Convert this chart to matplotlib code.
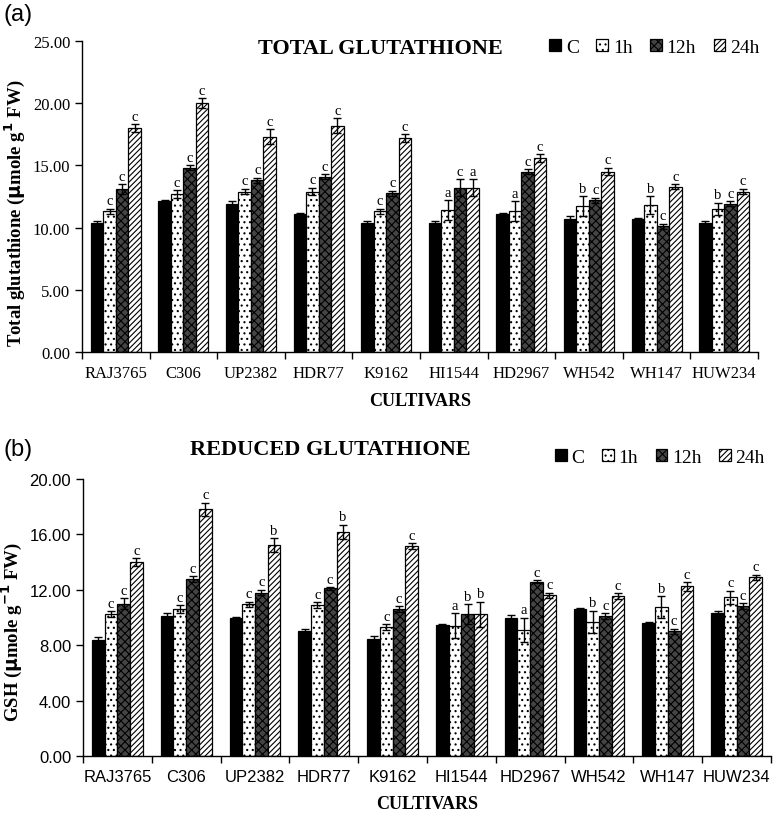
import numpy as np
import matplotlib.pyplot as plt

cultivars = ['RAJ3765', 'C306', 'UP2382', 'HDR77', 'K9162',
             'HI1544', 'HD2967', 'WH542', 'WH147', 'HUW234']
series = ['C', '1h', '12h', '24h']

# (a) total glutathione
total_c = [10.4, 12.1, 11.9, 11.1, 10.4, 10.35, 11.1, 10.7, 10.7, 10.35]
total_1h = [11.3, 12.7, 12.9, 12.9, 11.3, 11.4, 11.3, 11.7, 11.8, 11.5]
total_12h = [13.1, 14.8, 13.8, 14.1, 12.75, 13.2, 14.5, 12.2, 10.1, 11.9]
total_24h = [18.0, 20.0, 17.3, 18.2, 17.2, 13.2, 15.6, 14.5, 13.3, 12.9]
total_err_c = [0.1, 0.1, 0.2, 0.1, 0.15, 0.15, 0.1, 0.2, 0.1, 0.2]
total_err_1h = [0.2, 0.3, 0.2, 0.3, 0.2, 0.8, 0.8, 0.8, 0.7, 0.5]
total_err_12h = [0.4, 0.2, 0.2, 0.2, 0.2, 0.7, 0.2, 0.2, 0.2, 0.2]
total_err_24h = [0.3, 0.4, 0.6, 0.6, 0.3, 0.7, 0.3, 0.3, 0.2, 0.2]
total_letters = [
    ['', 'c', 'c', 'c'], ['', 'c', 'c', 'c'], ['', 'c', 'c', 'c'],
    ['', 'c', 'c', 'c'], ['', 'c', 'c', 'c'], ['', 'a', 'c', 'a'],
    ['', 'a', 'c', 'c'], ['', 'b', 'c', 'c'], ['', 'b', 'c', 'c'],
    ['', 'b', 'c', 'c']]

# (b) reduced glutathione
gsh_c = [8.4, 10.1, 9.95, 9.0, 8.45, 9.45, 10.0, 10.65, 9.6, 10.3]
gsh_1h = [10.25, 10.6, 10.95, 10.9, 9.3, 9.4, 9.1, 9.7, 10.75, 11.45]
gsh_12h = [11.0, 12.8, 11.8, 12.1, 10.6, 10.25, 12.6, 10.1, 9.0, 10.85]
gsh_24h = [14.0, 17.8, 15.25, 16.2, 15.15, 10.25, 11.6, 11.55, 12.25, 12.9]
gsh_err_c = [0.2, 0.2, 0.1, 0.2, 0.2, 0.05, 0.2, 0.05, 0.05, 0.2]
gsh_err_1h = [0.2, 0.3, 0.2, 0.2, 0.2, 0.9, 0.9, 0.8, 0.8, 0.5]
gsh_err_12h = [0.4, 0.2, 0.2, 0.1, 0.2, 0.7, 0.1, 0.2, 0.2, 0.2]
gsh_err_24h = [0.3, 0.5, 0.5, 0.5, 0.2, 0.9, 0.2, 0.2, 0.3, 0.2]
gsh_letters = [
    ['', 'c', 'c', 'c'], ['', 'c', 'c', 'c'], ['', 'c', 'c', 'b'],
    ['', 'c', 'c', 'b'], ['', 'c', 'c', 'c'], ['', 'a', 'b', 'b'],
    ['', 'a', 'c', 'c'], ['', 'b', 'c', 'c'], ['', 'b', 'c', 'c'],
    ['', 'c', 'c', 'c']]

serif = 'Liberation Serif'
sans = 'Liberation Sans'

styles = [dict(facecolor='black', hatch=None),
          dict(facecolor='white', hatch='...'),
          dict(facecolor='#444444', hatch='xxxx'),
          dict(facecolor='white', hatch='//////')]

plt.rcParams['hatch.linewidth'] = 0.8


def draw_panel(ax, vals, errs, letters, ymax, ystep, tick_font, title,
               ylabel, tag, tag_y, title_xy, leg_xy):
    x = np.arange(len(cultivars))
    w = 0.185
    for i in range(4):
        pos = x + (i - 1.5) * w
        ax.bar(pos, vals[i], w, color=styles[i]['facecolor'],
               hatch=styles[i]['hatch'], edgecolor='black', linewidth=0.9,
               label=series[i])
        ax.errorbar(pos, vals[i], yerr=errs[i], fmt='none', ecolor='black',
                    elinewidth=1.0, capsize=3, capthick=1.0)
        for j in range(len(cultivars)):
            if letters[j][i]:
                ax.text(pos[j], vals[i][j] + errs[i][j] + ymax * 0.005,
                        letters[j][i], ha='center', va='bottom',
                        fontsize=10.5, family=serif)
    ax.set_xlim(-0.5, len(cultivars) - 0.5)
    ax.set_ylim(0, ymax)
    ax.set_yticks(np.arange(0, ymax + 0.01, ystep))
    ax.set_yticklabels(['%.2f' % v for v in np.arange(0, ymax + 0.01, ystep)],
                       family=tick_font, fontsize=12)
    ax.set_xticks(x)
    ax.set_xticklabels(cultivars, family=tick_font, fontsize=12)
    ax.set_xticks(np.arange(-0.5, len(cultivars)), minor=True)
    ax.tick_params(axis='x', which='major', length=0, pad=9)
    ax.tick_params(axis='x', which='minor', length=5, width=1)
    ax.tick_params(axis='y', length=5, width=1)
    for s in ['top', 'right']:
        ax.spines[s].set_visible(False)
    for s in ['left', 'bottom']:
        ax.spines[s].set_linewidth(1.0)
    ax.set_xlabel('CULTIVARS', family=serif, fontweight='bold', fontsize=13,
                  labelpad=8)
    ax.set_ylabel(ylabel, family=serif, fontweight='bold', fontsize=13.5)
    ax.yaxis.label.set_y(0.45)
    fig.text(0.005, tag_y, tag, family=sans, fontsize=17, va='center')
    fig.text(title_xy[0], title_xy[1], title, family=serif,
             fontweight='bold', fontsize=16, ha='center', va='center')
    ax.legend(ncol=4, frameon=False, loc='center right', bbox_to_anchor=leg_xy,
              bbox_transform=fig.transFigure, handlelength=0.6,
              handleheight=0.6, handletextpad=0.25, columnspacing=0.9,
              borderpad=0, prop={'family': serif, 'size': 14})


fig = plt.figure(figsize=(7.77, 8.2), dpi=100)
ax1 = fig.add_axes([0.1055, 0.5695, 0.87, 0.3793])
ax2 = fig.add_axes([0.1068, 0.0768, 0.8855, 0.3378])

draw_panel(ax1, [total_c, total_1h, total_12h, total_24h],
           [total_err_c, total_err_1h, total_err_12h, total_err_24h],
           total_letters, 25, 5, serif, 'TOTAL GLUTATHIONE',
           r'Total glutathione ($\mathbf{\mu}$mole g$^{\mathbf{1}}$ FW)',
           '(a)', 0.982, (0.49, 0.94), (0.99, 0.941))
draw_panel(ax2, [gsh_c, gsh_1h, gsh_12h, gsh_24h],
           [gsh_err_c, gsh_err_1h, gsh_err_12h, gsh_err_24h],
           gsh_letters, 20, 4, sans, 'REDUCED GLUTATHIONE',
           r'GSH ($\mathbf{\mu}$mole g$^{\mathbf{-1}}$ FW)',
           '(b)', 0.451, (0.425, 0.451), (0.997, 0.441))

fig.savefig('out.png', dpi=100)
